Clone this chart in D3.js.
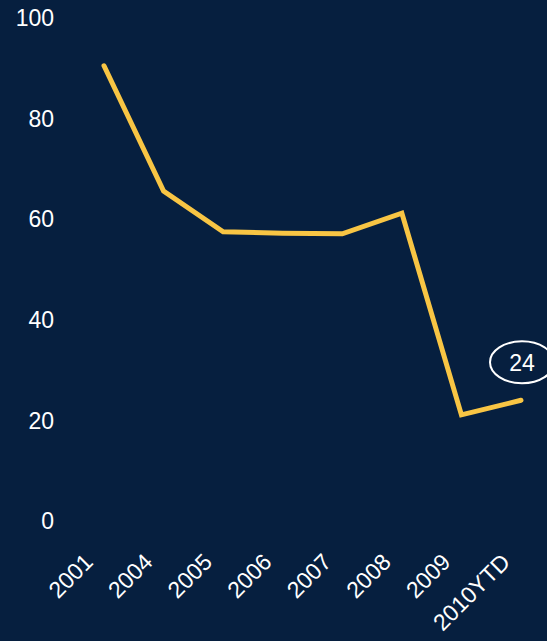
<!DOCTYPE html>
<html>
<head>
<meta charset="utf-8">
<script src="https://cdn.jsdelivr.net/npm/d3@7"></script>
<style>
  html, body { margin: 0; padding: 0; background: #061f3f; }
  text { font-family: "Liberation Sans", Arial, sans-serif; fill: #fff; }
</style>
</head>
<body>
<div id="chart"></div>
<script>
// chart data
var years = ['2001', '2004', '2005', '2006', '2007', '2008', '2009', '2010YTD'];
var values = [90.5, 65.6, 57.5, 57.2, 57.1, 61.2, 21.1, 24];
var yTicks = [0, 20, 40, 60, 80, 100];
var lastLabel = '24';

var width = 547, height = 641;

var svg = d3.select('#chart')
  .append('svg')
    .attr('width', width)
    .attr('height', height);

svg.append('rect')
  .attr('width', width)
  .attr('height', height)
  .attr('fill', '#061f3f');

var x = d3.scalePoint().domain(years).range([104, 521]);
var y = d3.scaleLinear().domain([0, 100]).range([521, 18]);

// y labels
svg.append('g')
  .selectAll('text')
  .data(yTicks)
  .enter()
    .append('text')
    .attr('x', 54)
    .attr('y', function (d) { return y(d); })
    .attr('dy', '0.36em')
    .attr('text-anchor', 'end')
    .attr('font-size', 23)
    .text(function (d) { return d; });

// x labels, rotated, ending just left of each point
svg.append('g')
  .selectAll('text')
  .data(years)
  .enter()
    .append('text')
    .attr('transform', function (d) {
      return 'translate(' + (x(d) - 21) + ',' + 552 + ') rotate(-45)';
    })
    .attr('text-anchor', 'end')
    .attr('dy', '0.7em')
    .attr('font-size', 23)
    .text(function (d) { return d; });

var line = d3.line()
  .x(function (d, i) { return x(years[i]); })
  .y(function (d) { return y(d); });

svg.append('path')
  .datum(values)
  .attr('d', line)
  .attr('fill', 'none')
  .attr('stroke', '#f8c544')
  .attr('stroke-width', 5)
  .attr('stroke-linecap', 'round')
  .attr('stroke-linejoin', 'miter');

// callout for the last value
var lx = x(years[years.length - 1]) + 1;
var ly = y(values[values.length - 1]) - 38;

svg.append('ellipse')
  .attr('cx', lx)
  .attr('cy', ly)
  .attr('rx', 32)
  .attr('ry', 21)
  .attr('fill', 'none')
  .attr('stroke', '#fff')
  .attr('stroke-width', 2);

svg.append('text')
  .attr('x', lx)
  .attr('y', ly)
  .attr('dy', '0.36em')
  .attr('text-anchor', 'middle')
  .attr('font-size', 23)
  .text(lastLabel);
</script>
</body>
</html>
